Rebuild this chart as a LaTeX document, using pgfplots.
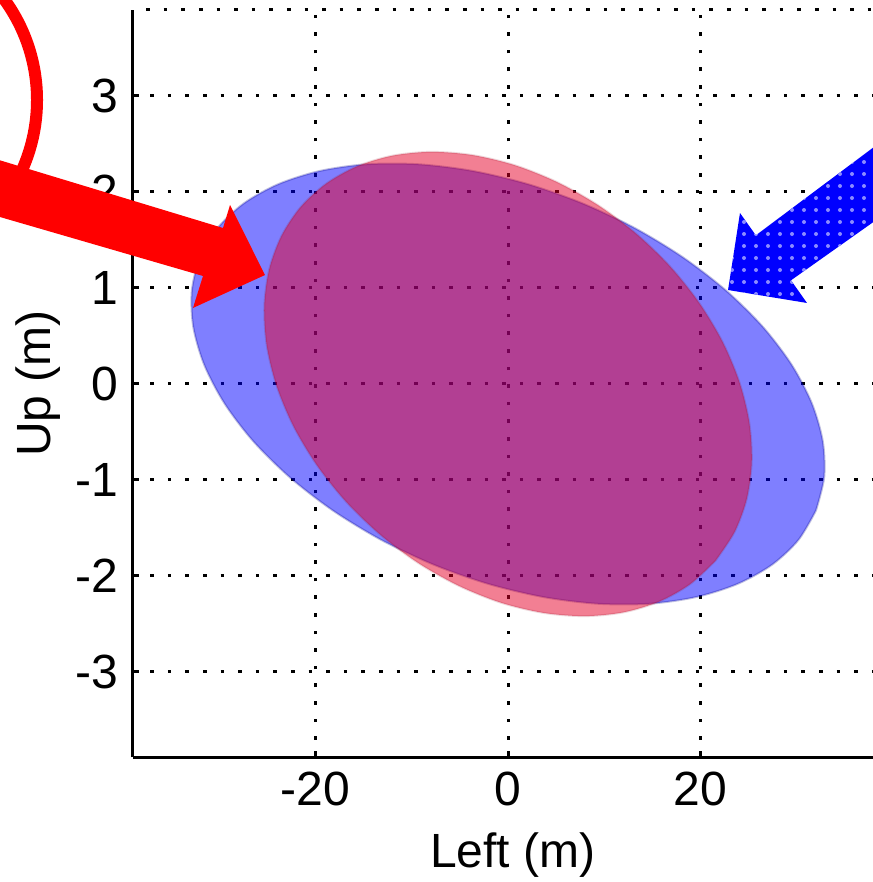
\documentclass[border=0pt]{standalone}
\usepackage{pgfplots}
\pgfplotsset{compat=1.18}
\usepackage{fontspec}
\setmainfont{Liberation Sans}
\usetikzlibrary{patterns}

\definecolor{ellblue}{RGB}{0,0,255}
\definecolor{ellred}{RGB}{230,0,40}
\definecolor{arrred}{RGB}{255,0,0}

% error ellipses, one per estimate (Left in m, Up in m)
\pgfplotstableread{
x y
32.00 -1.317
32.85 -0.970
32.70 -0.594
31.56 -0.199
29.46 0.202
26.47 0.596
22.67 0.972
18.18 1.319
13.14 1.626
7.70 1.883
2.03 2.083
-3.71 2.220
-9.33 2.289
-14.67 2.289
-19.56 2.219
-23.86 2.082
-27.44 1.882
-30.18 1.624
-32.00 1.317
-32.85 0.970
-32.70 0.594
-31.56 0.199
-29.46 -0.202
-26.47 -0.596
-22.67 -0.972
-18.18 -1.319
-13.14 -1.626
-7.70 -1.883
-2.03 -2.083
3.71 -2.220
9.33 -2.289
14.67 -2.289
19.56 -2.219
23.86 -2.082
27.44 -1.882
30.18 -1.624
32.00 -1.317
}\blueell

\pgfplotstableread{
x y
21.56 -1.841
23.54 -1.541
24.81 -1.194
25.32 -0.811
25.07 -0.403
24.05 0.017
22.30 0.437
19.87 0.843
16.84 1.224
13.30 1.567
9.35 1.863
5.12 2.102
0.74 2.278
-3.67 2.384
-7.97 2.418
-12.02 2.378
-15.71 2.266
-18.92 2.085
-21.56 1.841
-23.54 1.541
-24.81 1.194
-25.32 0.811
-25.07 0.403
-24.05 -0.017
-22.30 -0.437
-19.87 -0.843
-16.84 -1.224
-13.30 -1.567
-9.35 -1.863
-5.12 -2.102
-0.74 -2.278
3.67 -2.384
7.97 -2.418
12.02 -2.378
15.71 -2.266
18.92 -2.085
21.56 -1.841
}\redell

\begin{document}
\begin{tikzpicture}
\begin{axis}[
  x=2.40625pt, y=24pt,
  xmin=-39, xmax=40, ymin=-3.89, ymax=3.9,
  axis lines*=left,
  axis line style={line width=0.75pt},
  xtick={-20,0,20}, xticklabels={-20,0,20},
  ytick={-3,-2,...,3}, yticklabels={-3,-2,-1,0,1,2,3},
  major tick length=1.5pt,
  tick style={line width=0.75pt, black},
  grid=major,
  grid style={black, line width=0.75pt, dash pattern=on 0.9pt off 3.5pt},
  tick label style={font=\fontsize{12}{14}\selectfont},
  label style={font=\fontsize{12}{14}\selectfont},
  xlabel={Left (m)}, ylabel={Up (m)},
  ylabel style={yshift=-3pt},
  clip=false,
]
% dotted line along the top
\addplot[black, line width=0.75pt, dash pattern=on 0.9pt off 3.5pt] coordinates {(-37.6,3.9) (40,3.9)};

\addplot[smooth, fill=ellblue, fill opacity=0.5, draw=ellblue!50!black, draw opacity=0.25, line width=0.5pt]
  table[x=x, y=y] {\blueell} -- cycle;
\addplot[smooth, fill=ellred, fill opacity=0.5, draw=ellred!60!black, draw opacity=0.15, line width=0.5pt]
  table[x=x, y=y] {\redell} -- cycle;

% frame of the cropped picture and annotation points
\coordinate (TL) at (axis cs:-52.78,4.0);
\coordinate (BR) at (axis cs:37.82,-5.1875);
\coordinate (rc) at (axis cs:-66.70,2.958);
\coordinate (ra1) at (axis cs:-63.17,2.646);
\coordinate (ra2) at (axis cs:-29.61,1.625);
\coordinate (ra3) at (axis cs:-28.88,1.865);
\coordinate (ra4) at (axis cs:-25.25,1.135);
\coordinate (ra5) at (axis cs:-32.73,0.792);
\coordinate (ra6) at (axis cs:-31.69,1.125);
\coordinate (ra7) at (axis cs:-63.17,2.042);
\coordinate (ba1) at (axis cs:51.12,3.45);
\coordinate (ba2) at (axis cs:25.75,1.549);
\coordinate (ba3) at (axis cs:24.10,1.781);
\coordinate (ba4) at (axis cs:22.86,0.979);
\coordinate (ba5) at (axis cs:31.06,0.844);
\coordinate (ba6) at (axis cs:29.40,1.080);
\coordinate (ba7) at (axis cs:51.12,2.621);
\end{axis}

% annotations
\draw[arrred, line width=3pt] (rc) circle[radius=42.75pt];
\fill[arrred] (ra1) -- (ra2) -- (ra3) -- (ra4) -- (ra5) -- (ra6) -- (ra7) -- cycle;
\fill[blue, postaction={pattern=dots, pattern color=white!55!blue}]
  (ba1) -- (ba2) -- (ba3) -- (ba4) -- (ba5) -- (ba6) -- (ba7) -- cycle;

\pgfresetboundingbox
\path[use as bounding box] (TL) rectangle (BR);
\end{tikzpicture}
\end{document}
